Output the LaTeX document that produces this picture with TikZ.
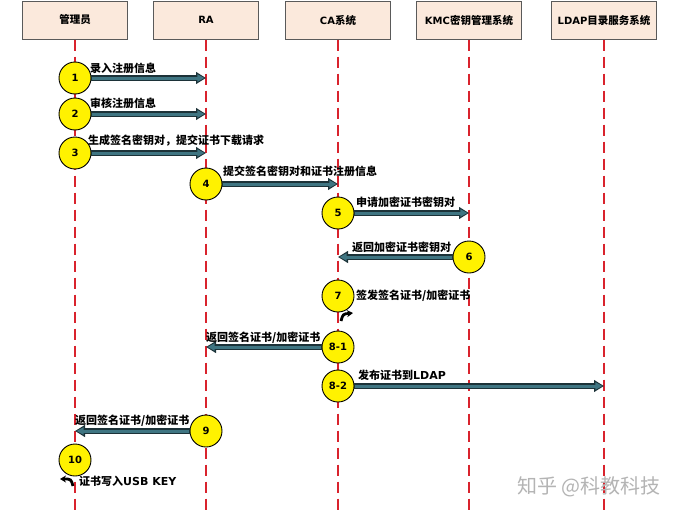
\documentclass[tikz,border=0pt]{standalone}
\usepackage{fontspec}
\setmainfont{Noto Sans CJK SC}
\newfontfamily\latf{DejaVu Sans}
\usetikzlibrary{arrows.meta}
\definecolor{hdrfill}{HTML}{FBE9DC}
\definecolor{hdrdraw}{HTML}{5A5A5A}
\definecolor{lifered}{HTML}{D9232D}
\definecolor{arrfill}{HTML}{3F7582}
\definecolor{arrdraw}{HTML}{1C3238}
\definecolor{circfill}{HTML}{FFF200}
\definecolor{wmgray}{HTML}{B4B4B4}
\begin{document}
\begin{tikzpicture}[x=1pt,y=-1pt,
  hdr/.style={draw=hdrdraw, line width=1pt, fill=hdrfill, minimum width=105pt, minimum height=38pt, inner sep=0pt, font=\fontsize{10.5}{12}\selectfont\bfseries},
  life/.style={lifered, line width=1.6pt, dash pattern=on 11pt off 6pt},
  stepc/.style={circle, draw=black, line width=0.9pt, fill=circfill, minimum size=32pt, inner sep=0pt, font=\latf\fontsize{10}{11}\selectfont\bfseries},
  lbl/.style={inner sep=0pt, anchor=west, font=\fontsize{11}{13}\selectfont\bfseries},
  arrout/.style={arrdraw, line width=5.4pt, -{Triangle[length=10pt,width=11.5pt]}},
  arrin/.style={arrfill, line width=3pt, -{Triangle[length=7pt,width=7pt]}, shorten >=1.6pt, shorten <=0.8pt},
  hookarr/.style={black, line width=2.8pt, -{Stealth[length=6pt,width=7pt]}},
]
\newcommand\blockarrow[2]{\draw[arrout] (#1) -- (#2); \draw[arrin] (#1) -- (#2);}
\useasboundingbox (0,0) rectangle (680,514);
\fill[white] (0,0) rectangle (680,514);

% headers
\node[hdr] (h1) at (75,20) {管理员};
\node[hdr] (h2) at (206,20) {{\latf\fontsize{10}{12}\selectfont\bfseries RA}};
\node[hdr] (h3) at (338,20) {{\latf\fontsize{10}{12}\selectfont\bfseries CA}系统};
\node[hdr] (h4) at (469,20) {{\latf\fontsize{10}{12}\selectfont\bfseries KMC}密钥管理系统};
\node[hdr] (h5) at (604,20) {{\latf\fontsize{10}{12}\selectfont\bfseries LDAP}目录服务系统};

% lifelines
\coordinate (e1) at (h1.south |- 0,512);
\coordinate (e2) at (h2.south |- 0,512);
\coordinate (e3) at (h3.south |- 0,512);
\coordinate (e4) at (h4.south |- 0,512);
\coordinate (e5) at (h5.south |- 0,512);
\foreach \i in {1,...,5} \draw[life] (h\i.south) -- (e\i);

% step circles
\node[stepc] (c1) at (75,78) {1};
\node[stepc] (c2) at (75,114) {2};
\node[stepc] (c3) at (75,153) {3};
\node[stepc] (c4) at (206,184) {4};
\node[stepc] (c5) at (338,213) {5};
\node[stepc] (c6) at (469,257) {6};
\node[stepc] (c7) at (338,296) {7};
\node[stepc] (c81) at (338,347) {8-1};
\node[stepc] (c82) at (338,386) {8-2};
\node[stepc] (c9) at (206,431) {9};
\node[stepc] (c10) at (75,460) {10};

% arrow targets on lifelines
\coordinate (t1) at (206,78);
\coordinate (t2) at (206,114);
\coordinate (t3) at (206,153);
\coordinate (t4) at (338,184);
\coordinate (t5) at (469,213);
\coordinate (t6) at (338,257);
\coordinate (t81) at (206,347);
\coordinate (t82) at (604,386);
\coordinate (t9) at (75,431);

\blockarrow{c1.east}{t1}
\blockarrow{c2.east}{t2}
\blockarrow{c3.east}{t3}
\blockarrow{c4.east}{t4}
\blockarrow{c5.east}{t5}
\blockarrow{c6.west}{t6}
\blockarrow{c81.west}{t81}
\blockarrow{c82.east}{t82}
\blockarrow{c9.west}{t9}

% self arrows
\coordinate (s7a) at (341,321);
\coordinate (s7b) at (353,313);
\draw[hookarr] (s7a) .. controls (343,314) .. (s7b);
\coordinate (s10a) at (73,486);
\coordinate (s10b) at (60,479);
\draw[hookarr] (s10a) .. controls (71,479) .. (s10b);

% labels
\node[lbl] (l1) at (90,68) {录入注册信息};
\node[lbl] (l2) at (90,103) {审核注册信息};
\node[lbl] (l3) at (88,141) {生成签名密钥对，提交证书下载请求};
\node[lbl] (l4) at (223,171) {提交签名密钥对和证书注册信息};
\node[lbl] (l5) at (356,202) {申请加密证书密钥对};
\node[lbl] (l6) at (352,247) {返回加密证书密钥对};
\node[lbl] (l7) at (356,296) {签发签名证书/加密证书};
\node[lbl] (l81) at (206,338) {返回签名证书/加密证书};
\node[lbl] (l82) at (358,375) {发布证书到{\latf\bfseries LDAP}};
\node[lbl] (l9) at (75,421) {返回签名证书/加密证书};
\node[lbl] (l10) at (79,481) {证书写入{\latf\bfseries USB KEY}};

% watermark
\node[inner sep=0pt, text=wmgray, font=\fontsize{20}{22}\selectfont] (wm) at (589,487) {知乎 @科教科技};
\end{tikzpicture}
\end{document}
